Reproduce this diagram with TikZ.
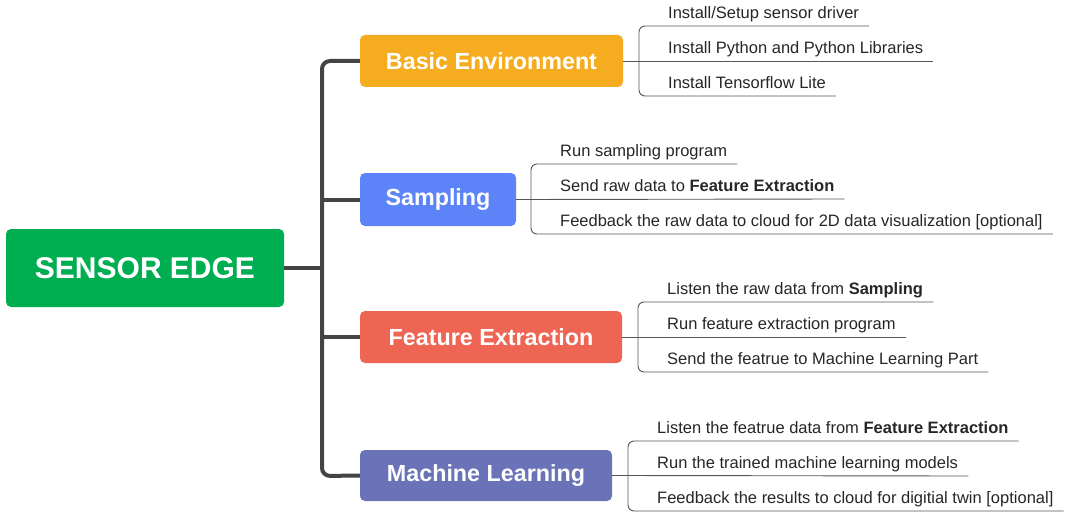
\documentclass[tikz,border=0pt]{standalone}
\usepackage{fontspec}
\setmainfont{Liberation Sans}
\definecolor{cgreen}{HTML}{00AE52}
\definecolor{corange}{HTML}{F6AC1F}
\definecolor{cblue}{HTML}{5C84F8}
\definecolor{cred}{HTML}{EE6554}
\definecolor{cpurple}{HTML}{6A73B8}
\definecolor{trunkc}{HTML}{444444}
\definecolor{leafc}{HTML}{555555}
\newcommand\leafgroup[7]{%
  % #1 prefix, #2 box node, #3 bracket x, #4 center y, #5 leaf1, #6 leaf2, #7 leaf3
  \pgfmathsetmacro\tx{#3+19}%
  \node[leaf] (#1leafA) at (\tx,#4-42.5) {#5};
  \node[leaf] (#1leafB) at (\tx,#4-7.5) {#6};
  \node[leaf] (#1leafC) at (\tx,#4+27.5) {#7};
  \draw[leafline] (#2.east) -- (#1leafB.east |- 0,#4);
  \draw[leafline,rounded corners=6pt] (#1leafA.east |- 0,#4-35) -- (#3,#4-35) -- (#3,#4+35) -- (#1leafC.east |- 0,#4+35);
}
\begin{document}
\begin{tikzpicture}[x=1pt,y=-1pt,
  rootbox/.style={fill=cgreen,rounded corners=5pt,text=white,font=\fontsize{30}{34}\selectfont\bfseries,minimum width=278pt,minimum height=78pt,inner sep=0pt},
  mainbox/.style={rounded corners=5pt,text=white,font=\fontsize{23.3}{27}\selectfont\bfseries,minimum height=52pt,inner sep=0pt},
  leaf/.style={anchor=base west,font=\fontsize{16.5}{19}\selectfont,text=black!85,inner xsep=10pt,inner ysep=0pt},
  trunk/.style={draw=trunkc,line width=4pt},
  leafline/.style={draw=leafc,line width=0.9pt}]
\useasboundingbox (0,0) rectangle (1065,516);
\node[rootbox] (root) at (145,268) {SENSOR EDGE};
\node[mainbox,fill=corange,minimum width=263pt] (boxBE) at (491.5,61) {Basic Environment};
\node[mainbox,fill=cblue,minimum width=156pt,minimum height=53pt] (boxSA) at (438,199.5) {Sampling};
\node[mainbox,fill=cred,minimum width=262pt] (boxFE) at (491,337) {Feature Extraction};
\node[mainbox,fill=cpurple,minimum width=252pt,minimum height=51pt] (boxML) at (486,475.5) {Machine Learning};
\coordinate (j) at (322,268);
\draw[trunk] (root.east) -- (j);
\draw[trunk,rounded corners=8pt] (boxBE.west) -- (322,61) -- (322,476) -- (boxML.west);
\draw[trunk] (322,199.5) -- (boxSA.west);
\draw[trunk] (322,337) -- (boxFE.west);
\leafgroup{b}{boxBE}{639}{61}{Install/Setup sensor driver}{Install Python and Python Libraries}{Install Tensorflow Lite}
\leafgroup{s}{boxSA}{531}{199}{Run sampling program}{Send raw data to \textbf{Feature Extraction}}{Feedback the raw data to cloud for 2D data visualization [optional]}
\leafgroup{f}{boxFE}{638}{337}{Listen the raw data from \textbf{Sampling}}{Run feature extraction program}{Send the featrue to Machine Learning Part}
\leafgroup{m}{boxML}{628}{476}{Listen the featrue data from \textbf{Feature Extraction}}{Run the trained machine learning models}{Feedback the results to cloud for digitial twin [optional]}
\end{tikzpicture}
\end{document}
